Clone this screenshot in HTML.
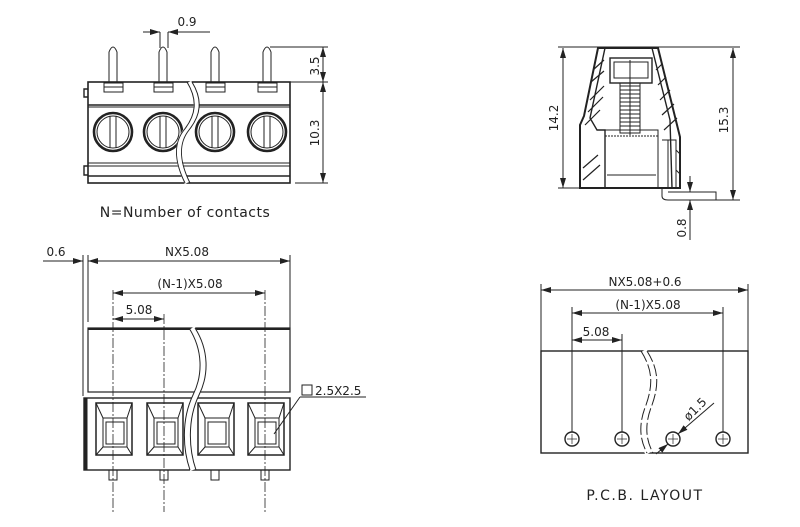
<!DOCTYPE html>
<html><head><style>
html,body{margin:0;padding:0;background:#fff;}
svg{display:block;}
text{font-family:"DejaVu Sans","Liberation Sans",sans-serif;fill:#222;}
</style></head><body>
<svg width="800" height="527" viewBox="0 0 800 527" xmlns="http://www.w3.org/2000/svg">
<defs>
<marker id="a" viewBox="0 0 10 6" refX="10" refY="3" markerWidth="10" markerHeight="6" orient="auto-start-reverse"><path d="M0,0 L10,3 L0,6 z" fill="#222"/></marker>
</defs>
<g stroke="#222" fill="none" stroke-width="1">

<!-- ===== TOP LEFT VIEW ===== -->
<rect x="88" y="82" width="202" height="101" stroke-width="1.6"/>
<line x1="88" y1="105" x2="290" y2="105" stroke-width="1.4"/>
<line x1="88" y1="107" x2="290" y2="107"/>
<line x1="88" y1="163" x2="290" y2="163"/>
<line x1="88" y1="166" x2="290" y2="166"/>
<line x1="88" y1="176" x2="290" y2="176" stroke-width="1.4"/>
<path d="M88,89 h-4 v8 h4 M88,166 h-4 v9 h4" stroke-width="1.4"/>
<g id="pin">
<path d="M109,82 V52 Q113,42 117,52 V82"/>
<rect x="104" y="83" width="19" height="9"/>
<line x1="104" y1="87" x2="123" y2="87"/>
</g>
<use href="#pin" transform="translate(50,0)"/>
<use href="#pin" transform="translate(102,0)"/>
<use href="#pin" transform="translate(154,0)"/>
<g id="scr">
<circle cx="113" cy="132" r="19" stroke-width="2.6"/>
<circle cx="113" cy="132" r="16"/>
<line x1="110" y1="116" x2="110" y2="148"/>
<line x1="116" y1="116" x2="116" y2="148"/>
</g>
<use href="#scr" transform="translate(50,0)"/>
<use href="#scr" transform="translate(102,0)"/>
<use href="#scr" transform="translate(154,0)"/>
<path d="M189,82 C200,100 198,115 186,130 C174,145 178,165 187,183" stroke="#fff" stroke-width="5"/>
<path d="M187,82 C198,100 196,115 184,130 C172,145 176,165 185,183"/>
<path d="M192,82 C203,100 201,115 189,130 C177,145 181,165 190,183"/>
<line x1="160" y1="32" x2="160" y2="48"/><line x1="168" y1="32" x2="168" y2="48"/>
<line x1="143" y1="32" x2="160" y2="32" marker-end="url(#a)"/>
<line x1="210" y1="32" x2="168" y2="32" marker-end="url(#a)"/>
<line x1="270" y1="47" x2="328" y2="47"/>
<line x1="290" y1="82" x2="328" y2="82"/>
<line x1="295" y1="183" x2="328" y2="183"/>
<line x1="323" y1="47" x2="323" y2="82" marker-start="url(#a)" marker-end="url(#a)"/>
<line x1="323" y1="82" x2="323" y2="183" marker-start="url(#a)" marker-end="url(#a)"/>
</g>
<text x="187" y="26" font-size="12" text-anchor="middle">0.9</text>
<text transform="translate(319,66) rotate(-90)" font-size="12" text-anchor="middle">3.5</text>
<text transform="translate(319,133) rotate(-90)" font-size="12" text-anchor="middle">10.3</text>
<text x="185" y="217" font-size="14" text-anchor="middle" letter-spacing="0.5">N=Number of contacts</text>

<!-- ===== TOP RIGHT (SIDE) VIEW ===== -->
<g stroke="#222" fill="none" stroke-width="1">
<path d="M598,48 H658 L680,137 V188 H580 V125 L584,116 Z" stroke-width="2"/>
<path d="M605,48 L590,118 L597,130 H605 V188" stroke-width="1.4"/>
<path d="M652,48 L670,120 L672,188" stroke-width="1.4"/>
<rect x="605" y="130" width="53" height="58"/>
<line x1="605" y1="136" x2="658" y2="136" stroke-dasharray="2,1"/>
<line x1="607" y1="175" x2="656" y2="175"/>
<rect x="610" y="58" width="42" height="25" stroke-width="1.4"/>
<rect x="614" y="62" width="34" height="16"/>
<rect x="620" y="83" width="20" height="50"/>
<g stroke-width="1">
<path d="M620,86 h20 M620,90 h20 M620,94 h20 M620,98 h20 M620,102 h20 M620,106 h20 M620,110 h20 M620,114 h20 M620,118 h20 M620,122 h20 M620,126 h20 M620,130 h20"/>
</g>
<line x1="630" y1="60" x2="630" y2="135"/>
<g stroke-width="1.2">
<path d="M590,100 L604,86 M588,112 L603,97 M593,70 L604,60 M591,82 L604,71 M585,125 L600,110"/>
<path d="M656,70 L662,64 M658,85 L666,77 M660,100 L670,90 M662,115 L674,104 M664,130 L677,118"/>
<path d="M583,180 L600,165 M583,168 L598,155"/>
</g>
<path d="M662,140 h14 v48 M668,140 v48 M676,150 l4,4 M676,170 l4,4"/>
<path d="M662,188 V196 Q662,200 668,200 H716 V192 H668"/>
<line x1="558" y1="47" x2="740" y2="47"/>
<line x1="558" y1="188" x2="580" y2="188"/>
<line x1="716" y1="200" x2="740" y2="200"/>
<line x1="563" y1="48" x2="563" y2="188" marker-start="url(#a)" marker-end="url(#a)"/>
<line x1="733" y1="48" x2="733" y2="200" marker-start="url(#a)" marker-end="url(#a)"/>
<line x1="690" y1="176" x2="690" y2="192" marker-end="url(#a)"/>
<line x1="690" y1="214" x2="690" y2="200" marker-end="url(#a)"/>
<line x1="690" y1="200" x2="690" y2="240"/>
</g>
<text transform="translate(558,118) rotate(-90)" font-size="12" text-anchor="middle">14.2</text>
<text transform="translate(728,120) rotate(-90)" font-size="12" text-anchor="middle">15.3</text>
<text transform="translate(686,228) rotate(-90)" font-size="12" text-anchor="middle">0.8</text>

<!-- ===== BOTTOM LEFT VIEW ===== -->
<g stroke="#222" fill="none" stroke-width="1">
<rect x="88" y="328" width="202" height="64" stroke-width="1.2"/>
<line x1="88" y1="329" x2="290" y2="329" stroke-width="2"/>
<rect x="84" y="398" width="206" height="72" stroke-width="1.4"/>
<line x1="86" y1="398" x2="86" y2="470" stroke-width="3"/>
<g id="sq">
<rect x="96" y="403" width="36" height="52" stroke-width="1.5"/>
<path d="M96,403 L103,418 M132,403 L127,418 M96,455 L103,447 M132,455 L127,447"/>
<rect x="103" y="418" width="24" height="29"/>
<rect x="106" y="422" width="18" height="22"/>
<rect x="109" y="470" width="8" height="10"/>
</g>
<use href="#sq" transform="translate(51,0)"/>
<use href="#sq" transform="translate(102,0)"/>
<use href="#sq" transform="translate(152,0)"/>
<path d="M192,328 C206,350 206,375 196,395 C184,420 186,450 193,470" stroke="#fff" stroke-width="6"/>
<path d="M189,328 C203,350 203,375 193,395 C181,420 183,450 190,470"/>
<path d="M195,328 C209,350 209,375 199,395 C187,420 189,450 196,470"/>
<g stroke-dasharray="10,2,2,2" stroke-width="0.8">
<line x1="113" y1="290" x2="113" y2="512"/>
<line x1="164" y1="314" x2="164" y2="512"/>
<line x1="265" y1="290" x2="265" y2="512"/>
</g>
<line x1="88" y1="255" x2="88" y2="322"/>
<line x1="290" y1="255" x2="290" y2="328"/>
<line x1="83" y1="255" x2="83" y2="396"/>
<line x1="43" y1="261" x2="83" y2="261" marker-end="url(#a)"/>
<line x1="88" y1="261" x2="290" y2="261" marker-start="url(#a)" marker-end="url(#a)"/>
<line x1="113" y1="293" x2="265" y2="293" marker-start="url(#a)" marker-end="url(#a)"/>
<line x1="113" y1="319" x2="164" y2="319" marker-start="url(#a)" marker-end="url(#a)"/>
<rect x="302" y="385" width="10" height="10"/>
<line x1="300" y1="397" x2="366" y2="397"/>
<line x1="300" y1="397" x2="274" y2="434"/>
</g>
<text x="56" y="256" font-size="12" text-anchor="middle">0.6</text>
<text x="187" y="256" font-size="12" text-anchor="middle">NX5.08</text>
<text x="190" y="288" font-size="12" text-anchor="middle">(N-1)X5.08</text>
<text x="139" y="314" font-size="12" text-anchor="middle">5.08</text>
<text x="315" y="395" font-size="12">2.5X2.5</text>

<!-- ===== BOTTOM RIGHT PCB ===== -->
<g stroke="#222" fill="none" stroke-width="1">
<rect x="541" y="351" width="207" height="102" stroke-width="1.4"/>
<path d="M643,351 C655,370 655,385 648,405 C640,425 642,440 649,453" stroke="#fff" stroke-width="8"/>
<path d="M641,351 C653,370 653,385 646,405 C638,425 640,440 647,453" stroke-dasharray="12,3"/>
<path d="M647,351 C659,370 659,385 652,405 C644,425 646,440 653,453" stroke-dasharray="12,3"/>
<g id="h">
<circle cx="572" cy="439" r="7" stroke-width="1.4"/>
<line x1="567" y1="439" x2="577" y2="439" stroke-width="0.7"/>
<line x1="572" y1="434" x2="572" y2="444" stroke-width="0.7"/>
</g>
<use href="#h" transform="translate(50,0)"/>
<use href="#h" transform="translate(101,0)"/>
<use href="#h" transform="translate(151,0)"/>
<line x1="541" y1="284" x2="541" y2="351"/>
<line x1="748" y1="284" x2="748" y2="351"/>
<line x1="572" y1="307" x2="572" y2="432"/>
<line x1="622" y1="334" x2="622" y2="432"/>
<line x1="723" y1="307" x2="723" y2="432"/>
<line x1="541" y1="290" x2="748" y2="290" marker-start="url(#a)" marker-end="url(#a)"/>
<line x1="572" y1="313" x2="723" y2="313" marker-start="url(#a)" marker-end="url(#a)"/>
<line x1="572" y1="340" x2="622" y2="340" marker-start="url(#a)" marker-end="url(#a)"/>
<line x1="656" y1="454" x2="668" y2="444" marker-end="url(#a)"/>
<line x1="714" y1="403" x2="678" y2="434" marker-end="url(#a)"/>
</g>
<text x="645" y="286" font-size="12" text-anchor="middle">NX5.08+0.6</text>
<text x="648" y="309" font-size="12" text-anchor="middle">(N-1)X5.08</text>
<text x="596" y="336" font-size="12" text-anchor="middle">5.08</text>
<text transform="translate(698,412) rotate(-45)" font-size="12" text-anchor="middle">ø1.5</text>
<text x="645" y="500" font-size="14" text-anchor="middle" letter-spacing="1.5">P.C.B. LAYOUT</text>
</svg>
</body></html>
